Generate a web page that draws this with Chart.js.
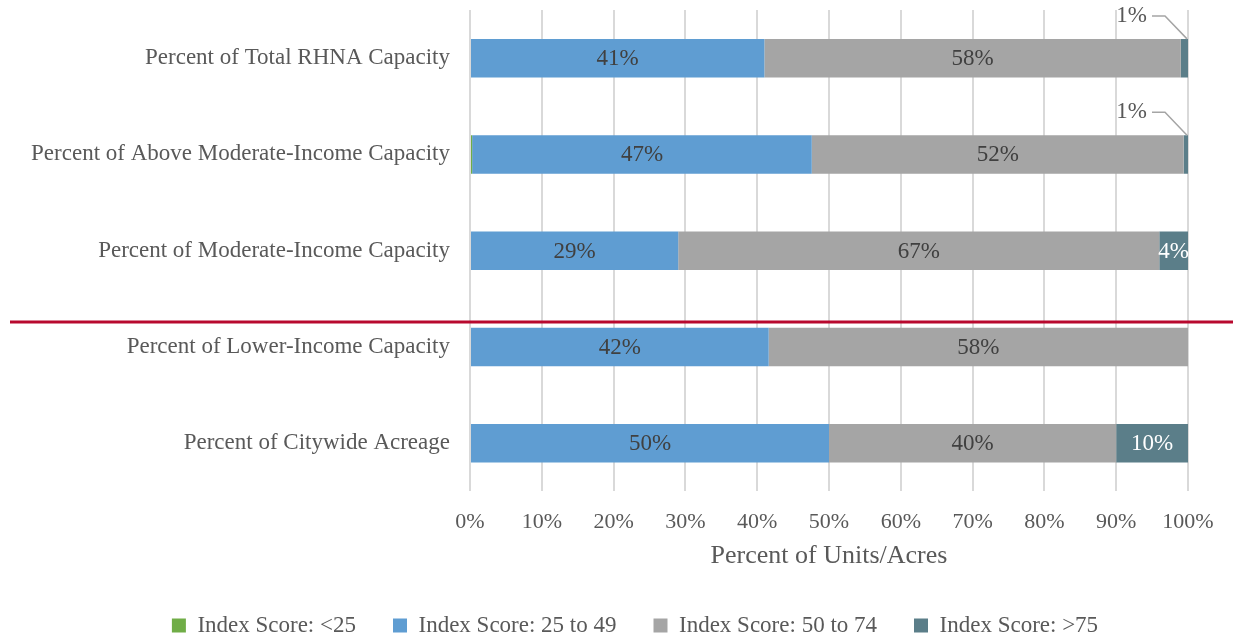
<!DOCTYPE html>
<html>
<head>
<meta charset="utf-8">
<script src="https://cdn.jsdelivr.net/npm/chart.js@4.4.1/dist/chart.umd.min.js"></script>
<style>
  html, body { margin: 0; padding: 0; background: #fff; }
  #wrap { width: 1233px; height: 637px; }
</style>
</head>
<body>
<div id="wrap"><canvas id="myChart"></canvas></div>
<script>
const categories = [
  'Percent of Total RHNA Capacity',
  'Percent of Above Moderate-Income Capacity',
  'Percent of Moderate-Income Capacity',
  'Percent of Lower-Income Capacity',
  'Percent of Citywide Acreage'
];
const seriesNames = ['Index Score: <25', 'Index Score: 25 to 49', 'Index Score: 50 to 74', 'Index Score: >75'];
const under25 = [0, 0.3, 0, 0, 0];
const from25to49 = [41, 47.3, 29, 41.6, 50];
const from50to74 = [58, 51.8, 67, 58.4, 40];
const over75 = [1, 0.6, 4, 0, 10];
const xTicks = [0, 10, 20, 30, 40, 50, 60, 70, 80, 90, 100];

const FONT = "'Liberation Serif', serif";
const TEXT = '#595959';
const colors = ['#70ad47', '#5f9dd2', '#a5a5a5', '#5b7e89'];
const labelColors = [null, '#404040', '#404040', '#ffffff'];

// value labels: inside the segment, or above with a leader line for thin ones
const segmentLabels = {
  id: 'segmentLabels',
  afterDatasetsDraw(chart) {
    const ctx = chart.ctx;
    ctx.save();
    ctx.font = '23px ' + FONT;
    ctx.textBaseline = 'middle';
    chart.data.datasets.forEach((ds, di) => {
      if (!labelColors[di]) return;
      chart.getDatasetMeta(di).data.forEach((bar, i) => {
        const v = ds.data[i];
        if (!v) return;
        const txt = Math.round(v) + '%';
        const w = Math.abs(bar.x - bar.base);
        if (w > 25) {
          ctx.fillStyle = labelColors[di];
          ctx.textAlign = 'center';
          ctx.fillText(txt, (bar.x + bar.base) / 2, bar.y + 1);
        } else {
          const top = bar.y - bar.height / 2;
          const ty = top - 23;
          const tx = bar.x - 41;
          ctx.strokeStyle = '#a5a5a5';
          ctx.lineWidth = 1.5;
          ctx.beginPath();
          ctx.moveTo(tx + 5, ty);
          ctx.lineTo(tx + 18, ty);
          ctx.lineTo(bar.x - 1, top);
          ctx.stroke();
          ctx.fillStyle = TEXT;
          ctx.textAlign = 'right';
          ctx.fillText(txt, tx, ty);
        }
      });
    });
    ctx.restore();
  }
};

// red divider just above the lower-income row
const divider = {
  id: 'divider',
  afterDatasetsDraw(chart) {
    const py = chart.scales.y.getPixelForValue(2.74);
    const ctx = chart.ctx;
    ctx.save();
    ctx.strokeStyle = '#b8092e';
    ctx.lineWidth = 3;
    ctx.beginPath();
    ctx.moveTo(10, py);
    ctx.lineTo(chart.width, py);
    ctx.stroke();
    ctx.restore();
  }
};

// the legend row counts its trailing padding when centring; nudge it right
const legendShift = {
  id: 'legendShift',
  afterLayout(chart) {
    chart.legend.left += 41;
    chart.legend.right += 41;
  }
};

const ctx = document.getElementById('myChart').getContext('2d');
const myChart = new Chart(ctx, {
  type: 'bar',
  data: {
    labels: categories,
    datasets: [under25, from25to49, from50to74, over75].map((d, i) => ({
      label: seriesNames[i],
      data: d,
      backgroundColor: colors[i],
      borderWidth: 0,
      barPercentage: 0.4,
      categoryPercentage: 1
    }))
  },
  options: {
    indexAxis: 'y',
    responsive: true,
    maintainAspectRatio: false,
    animation: false,
    layout: { padding: { top: 10, right: 45, left: 0, bottom: -10 } },
    scales: {
      x: {
        stacked: true,
        min: 0,
        max: 100,
        afterBuildTicks: axis => { axis.ticks = xTicks.map(v => ({ value: v })); },
        grid: { color: '#d9d9d9', lineWidth: 2, drawTicks: false },
        border: { display: false },
        ticks: {
          padding: 18,
          color: TEXT,
          font: { family: FONT, size: 22 },
          callback: v => v + '%'
        },
        title: {
          display: true,
          text: 'Percent of Units/Acres',
          color: TEXT,
          font: { family: FONT, size: 26 },
          padding: { top: -13, bottom: 5 }
        }
      },
      y: {
        stacked: true,
        grid: { display: false, drawTicks: false },
        border: { display: false },
        afterFit: scale => {
          scale.width = 470;
          scale.paddingTop = 0;
          scale.paddingBottom = 0;
        },
        ticks: {
          padding: 20,
          color: TEXT,
          font: { family: FONT, size: 23 }
        }
      }
    },
    plugins: {
      legend: {
        position: 'bottom',
        labels: {
          color: TEXT,
          font: { family: FONT, size: 23 },
          boxWidth: 14,
          boxHeight: 14,
          padding: 37
        }
      },
      tooltip: { enabled: false }
    }
  },
  plugins: [segmentLabels, divider, legendShift]
});
</script>
</body>
</html>
